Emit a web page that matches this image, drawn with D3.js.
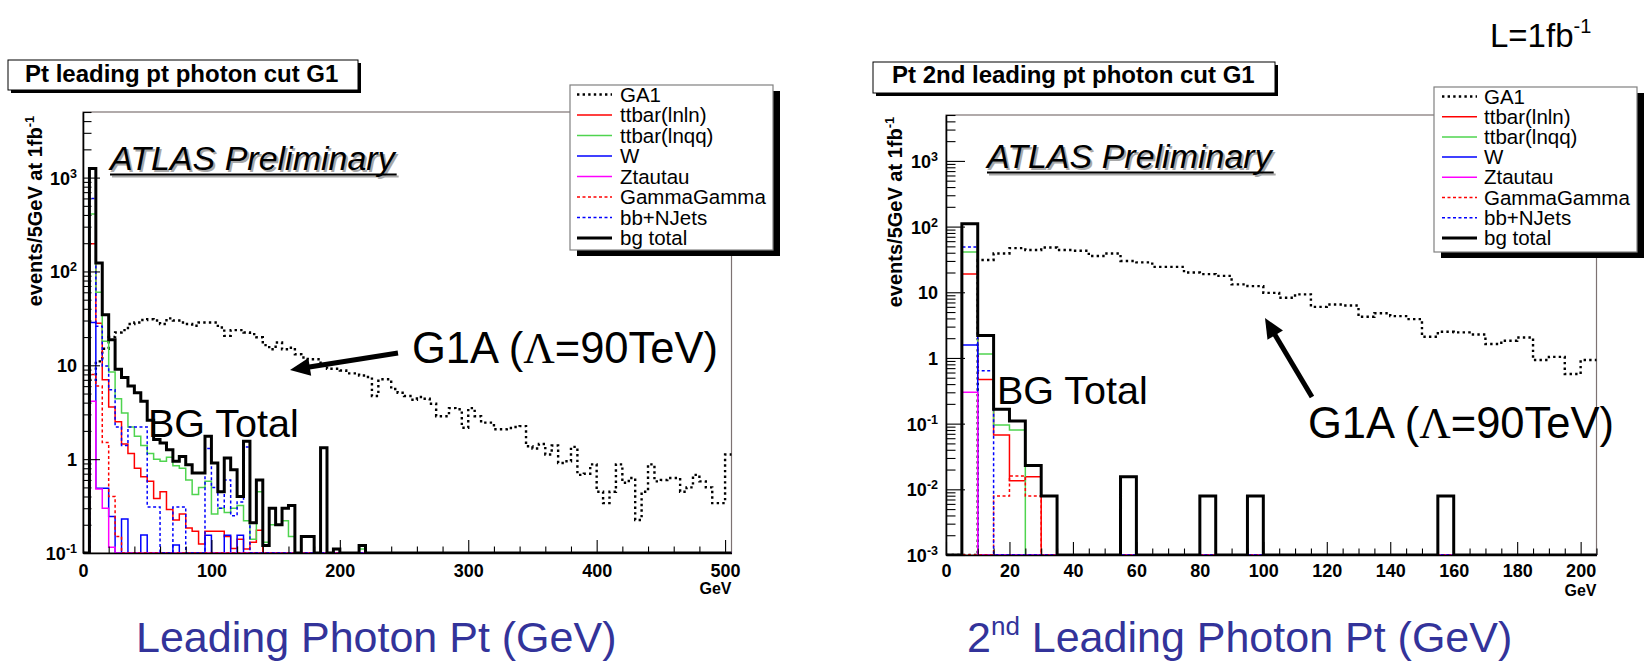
<!DOCTYPE html>
<html><head><meta charset="utf-8">
<script src="https://cdn.jsdelivr.net/npm/d3@7"></script>
<style>
body{margin:0;background:#fff}
svg{display:block}
text{font-family:"Liberation Sans",Arial,Helvetica,sans-serif}
</style></head>
<body><svg id="c" width="1645" height="661"></svg>
<script>
// ---------------- DATA ----------------
const binWidth = 5;
const seriesNames = ["GA1","ttbar(lnln)","ttbar(lnqq)","W","Ztautau","GammaGamma","bb+NJets","bg total"];

// Left panel: leading photon Pt, bins 0-505 GeV (101 bins)
const leftGA1 = [
 0,7,11,15,20,22.4,23.7,27.5,28.6,30.4,
 31,30,27.5,31.6,30,28.6,27.5,26.4,28.6,28.6,
 28.6,25.3,20.6,23.7,23.7,22.4,21.5,19.9,16.4,14.8,
 17.5,14.8,15.4,13.1,12.1,11.6,11.6,10.3,9.2,9.2,
 8.8,8.2,8.2,7.8,7.5,4.7,7.1,7.1,5.6,5.1,
 4.7,4.3,4.6,4.4,3.9,2.87,2.87,3.5,3.4,2.16,
 3.5,2.87,2.45,2.45,2.08,2.08,2.15,2.2,2.25,1.37,
 1.3,1.45,1.12,1.4,0.91,0.95,1.35,0.68,0.7,0.88,
 0.45,0.34,0.45,0.88,0.56,0.63,0.225,0.45,0.88,0.58,
 0.6,0.63,0.63,0.45,0.5,0.68,0.58,0.5,0.34,0.34,
 1.12];
const leftTtbarLnln = [
 0,197,28,7,3.6,2.5,1.45,1.15,0.8,0.65,
 0.58,0.38,0.45,0.29,0.225,0.26,0.185,0.17,0.125,0.17,
 0.17,0.17,0.15,0.112,0.14,0.11,0.13,0.175,0,0,
 0,0,0,0,0,0,0,0,0,0,
 0,0,0,0,0,0,0,0,0,0,
 0,0,0,0,0,0,0,0,0,0,
 0,0,0,0,0,0,0,0,0,0,
 0,0,0,0,0,0,0,0,0,0,
 0,0,0,0,0,0,0,0,0,0,
 0,0,0,0,0,0,0,0,0,0,
 0];
const leftTtbarLnqq = [
 0,410,60,18,8.5,4.4,3.1,2.2,1.75,1.4,
 1.15,1.0,0.95,1.05,0.85,0.8,0.6,0.42,0.5,0.58,
 0.26,0.3,0.27,0.3,0.32,0.22,0.14,0.45,0.13,0.2,
 0.2,0.22,0.15,0,0,0,0,0,0,0,
 0,0,0,0.11,0,0,0,0,0,0,
 0,0,0,0,0,0,0,0,0,0,
 0,0,0,0,0,0,0,0,0,0,
 0,0,0,0,0,0,0,0,0,0,
 0,0,0,0,0,0,0,0,0,0,
 0,0,0,0,0,0,0,0,0,0,
 0];
const leftW = [
 0,28.6,0.49,0.49,0.245,0,0.23,0,0,0.156,
 0,0,0,0,0.122,0,0,0,0,0.155,
 0,0,0.155,0,0.155,0,0,0,0,0,
 0,0,0,0,0,0,0,0,0,0,
 0,0,0,0,0,0,0,0,0,0,
 0,0,0,0,0,0,0,0,0,0,
 0,0,0,0,0,0,0,0,0,0,
 0,0,0,0,0,0,0,0,0,0,
 0,0,0,0,0,0,0,0,0,0,
 0,0,0,0,0,0,0,0,0,0,
 0];
const leftZtautau = [
 0,4.15,0.48,0.3,0.115,0,0,0,0,0,
 0,0,0,0,0,0,0,0,0,0,
 0,0,0,0,0,0,0,0,0,0,
 0,0,0,0,0,0,0,0,0,0,
 0,0,0,0,0,0,0,0,0,0,
 0,0,0,0,0,0,0,0,0,0,
 0,0,0,0,0,0,0,0,0,0,
 0,0,0,0,0,0,0,0,0,0,
 0,0,0,0,0,0,0,0,0,0,
 0,0,0,0,0,0,0,0,0,0,
 0];
const leftGammaGamma = [
 0,8,6,1.5,0.4,0.15,0,0,0,0,
 0,0,0,0,0,0,0,0,0,0,
 0,0,0,0,0,0,0,0,0,0,
 0,0,0,0,0,0,0,0,0,0,
 0,0,0,0,0,0,0,0,0,0,
 0,0,0,0,0,0,0,0,0,0,
 0,0,0,0,0,0,0,0,0,0,
 0,0,0,0,0,0,0,0,0,0,
 0,0,0,0,0,0,0,0,0,0,
 0,0,0,0,0,0,0,0,0,0,
 0];
const leftBbNJets = [
 0,600,26,9.8,5.5,2.2,1.4,2.2,2.2,2.2,
 0.31,0.31,0,0,0.31,0.31,0,0,0,1.3,
 0.5,0.3,0.6,0.25,0.35,1.35,0,0,0,0,
 0,0,0,0,0,0,0,0,0,0,
 0,0,0,0,0,0,0,0,0,0,
 0,0,0,0,0,0,0,0,0,0,
 0,0,0,0,0,0,0,0,0,0,
 0,0,0,0,0,0,0,0,0,0,
 0,0,0,0,0,0,0,0,0,0,
 0,0,0,0,0,0,0,0,0,0,
 0];
const leftBgTotal = [
 0,1250,123,34.5,18.7,9.06,7.4,6.0,5.1,4.15,
 2.6,1.62,1.49,1.26,0.95,1.07,0.87,0.71,0.71,1.75,
 0.91,0.45,1.03,0.77,0.40,1.55,0.21,0.60,0.12,0.3,
 0.2,0.3,0.32,0,0.15,0.15,0,1.32,0,0.11,
 0,0,0,0.12,0,0,0,0,0,0,
 0,0,0,0,0,0,0,0,0,0,
 0,0,0,0,0,0,0,0,0,0,
 0,0,0,0,0,0,0,0,0,0,
 0,0,0,0,0,0,0,0,0,0,
 0,0,0,0,0,0,0,0,0,0,
 0];

// Right panel: 2nd leading photon Pt, bins 0-205 GeV (41 bins)
const rightGA1 = [
 0,0,31,39,47,44,48,44,42.8,35.6,
 39,30,28.5,24.4,24.4,20,18.9,17.8,13.2,12.4,
 9.8,8.24,9.3,6.0,6.5,6.3,4.24,4.8,4.34,3.9,
 2.1,2.5,2.45,2.28,1.63,1.83,2.05,0.93,1.04,0.57,
 0.93];
const rightTtbarLnln = [
 0,18.9,0.47,0.067,0.0135,0.0155,0,0,0,0,
 0,0,0,0,0,0,0,0,0,0,
 0,0,0,0,0,0,0,0,0,0,
 0,0,0,0,0,0,0,0,0,0,
 0];
const rightTtbarLnqq = [
 0,41,1.15,0.095,0.08,0,0,0,0,0,
 0,0,0,0,0,0,0,0,0,0,
 0,0,0,0,0,0,0,0,0,0,
 0,0,0,0,0,0,0,0,0,0,
 0];
const rightW = [
 0,1.57,0,0,0,0,0,0,0,0,
 0,0,0,0,0,0,0,0,0,0,
 0,0,0,0,0,0,0,0,0,0,
 0,0,0,0,0,0,0,0,0,0,
 0];
const rightZtautau = [
 0,0.3,0,0,0,0,0,0,0,0,
 0,0,0,0,0,0,0,0,0,0,
 0,0,0,0,0,0,0,0,0,0,
 0,0,0,0,0,0,0,0,0,0,
 0];
const rightGammaGamma = [
 0,0,0,0.0079,0.016,0.0079,0,0,0,0,
 0,0,0,0,0,0,0,0,0,0,
 0,0,0,0,0,0,0,0,0,0,
 0,0,0,0,0,0,0,0,0,0,
 0];
const rightBbNJets = [
 0,49,0.64,0,0,0,0,0,0,0,
 0,0,0,0,0,0,0,0,0,0,
 0,0,0,0,0,0,0,0,0,0,
 0,0,0,0,0,0,0,0,0,0,
 0];
const rightBgTotal = [
 0,110,2.2,0.166,0.11,0.023,0.0079,0,0,0,
 0,0.0156,0,0,0,0,0.0079,0,0,0.0079,
 0,0,0,0,0,0,0,0,0,0,
 0,0.0079,0,0,0,0,0,0,0,0,
 0];

// Axis ticks
const leftXMajor = [0,100,200,300,400,500];
const rightXMajor = [0,20,40,60,80,100,120,140,160,180,200];
const leftYDecades = [0.1,1,10,100,1000];
const rightYDecades = [0.001,0.01,0.1,1,10,100,1000];

// ---------------- STYLE ----------------
const seriesStyles = [
 {color:'#000000', width:2.4, dash:'2.4,3.2'},
 {color:'#ff0000', width:1.5},
 {color:'#4fd44f', width:1.5},
 {color:'#0000ff', width:1.5},
 {color:'#ff00ff', width:1.5},
 {color:'#ff0000', width:1.5, dash:'3,2.5'},
 {color:'#0000ff', width:1.5, dash:'3,2.5'},
 {color:'#000000', width:3}
];
const drawOrder = [0,1,2,3,4,5,6,7];

const svg = d3.select('#c');
const FONT = '"Liberation Sans",Arial,Helvetica,sans-serif';

function expLabel(sel, v) {
  const e = Math.round(Math.log10(v));
  if (e === 0) { sel.text('1'); return; }
  if (e === 1) { sel.text('10'); return; }
  sel.append('tspan').text('10');
  sel.append('tspan').attr('dy', -7).attr('font-size', 12.5).text(e < 0 ? '-' + (-e) : String(e));
}

function drawPanel(cfg) {
  const g = svg.append('g');
  const x = d3.scaleLinear().domain(cfg.xDomain).range([cfg.fx0, cfg.fx1]);
  const y = d3.scaleLog().domain(cfg.yDomain).range([cfg.fy1, cfg.fy0]);
  const ymin = cfg.yDomain[0];

  g.append('rect').attr('x', cfg.fx0).attr('y', cfg.fy0)
    .attr('width', cfg.fx1 - cfg.fx0).attr('height', cfg.fy1 - cfg.fy0)
    .attr('fill', '#fff').attr('stroke', '#7d7272').attr('stroke-width', 1.2);

  const cid = 'clip' + cfg.id;
  svg.append('clipPath').attr('id', cid).append('rect')
    .attr('x', cfg.fx0).attr('y', cfg.fy0)
    .attr('width', cfg.fx1 - cfg.fx0 + 2).attr('height', cfg.fy1 - cfg.fy0 + 0.5);
  const plot = g.append('g').attr('clip-path', 'url(#' + cid + ')');

  const line = d3.line().curve(d3.curveStepAfter);
  drawOrder.forEach(si => {
    const vals = cfg.series[si];
    const pts = vals.map((v, i) => [x(i * binWidth), y(Math.max(v, ymin))]);
    pts.push([x(vals.length * binWidth), y(Math.max(vals[vals.length - 1], ymin))]);
    const st = seriesStyles[si];
    plot.append('path').attr('d', line(pts)).attr('fill', 'none')
      .attr('stroke', st.color).attr('stroke-width', st.width)
      .attr('stroke-dasharray', st.dash || null)
      .attr('stroke-linejoin', 'miter');
  });

  // X axis
  const xMinor = d3.range(cfg.xDomain[0], cfg.xDomain[1] + 0.001, cfg.xMinorStep)
    .filter(v => cfg.xMajor.indexOf(v) < 0);
  const gxm = g.append('g').attr('transform', `translate(0,${cfg.fy1})`)
    .call(d3.axisBottom(x).tickValues(xMinor).tickSize(-6.5).tickSizeOuter(0).tickFormat(''));
  gxm.select('.domain').remove();
  const gx = g.append('g').attr('transform', `translate(0,${cfg.fy1})`)
    .call(d3.axisBottom(x).tickValues(cfg.xMajor).tickSize(-13).tickSizeOuter(0).tickPadding(cfg.xPad).tickFormat(d3.format('d')));
  gx.selectAll('text').attr('font-family', FONT).attr('font-size', 18).attr('font-weight', 'bold').attr('fill', '#000');
  gx.select('.domain').attr('stroke-width', 1.6);
  g.selectAll('.tick line').attr('stroke-width', 1.1);

  // Y axis
  const yMinor = [];
  cfg.yDecades.forEach(d => { for (let k = 2; k <= 9; k++) { const v = d * k; if (v <= cfg.yDomain[1] * 1.0001) yMinor.push(v); } });
  const gym = g.append('g').attr('transform', `translate(${cfg.fx0},0)`)
    .call(d3.axisLeft(y).tickValues(yMinor).tickSize(-cfg.yMinorLen).tickSizeOuter(0).tickFormat(''));
  gym.select('.domain').remove();
  const gy = g.append('g').attr('transform', `translate(${cfg.fx0},0)`)
    .call(d3.axisLeft(y).tickValues(cfg.yDecades).tickSize(-cfg.yMajorLen).tickSizeOuter(0).tickPadding(cfg.yPad).tickFormat(''));
  gy.select('.domain').attr('stroke-width', 1.6);
  gy.selectAll('.tick text').each(function(d) {
    const t = d3.select(this);
    t.attr('font-family', FONT).attr('font-size', 18).attr('font-weight', 'bold').attr('fill', '#000').attr('dy', '0.36em');
    expLabel(t, d);
  });
  g.selectAll('.tick line').attr('stroke-width', 1.1);

  // axis unit
  g.append('text').attr('x', cfg.fx1).attr('y', cfg.fy1 + 41).attr('text-anchor', 'end')
    .attr('font-weight', 'bold').attr('font-size', 16).text('GeV');

  // y title
  const yt = g.append('text').attr('transform', `translate(${cfg.yTitleX},${cfg.yTitleY}) rotate(-90)`)
    .attr('text-anchor', 'middle').attr('font-weight', 'bold').attr('font-size', 20);
  yt.append('tspan').text('events/5GeV at 1fb');
  yt.append('tspan').attr('dy', -8).attr('font-size', 13).text('-1');

  return {x, y, g};
}

function titleBox(x, y, w, h, text, tx, ty) {
  svg.append('rect').attr('x', x + 3).attr('y', y + 3).attr('width', w).attr('height', h).attr('fill', '#000');
  svg.append('rect').attr('x', x).attr('y', y).attr('width', w).attr('height', h)
    .attr('fill', '#fff').attr('stroke', '#000').attr('stroke-width', 1);
  svg.append('text').attr('x', tx).attr('y', ty).attr('font-weight', 'bold').attr('font-size', 24).text(text);
}

function legendBox(x, y, w, h, row0, rowStep, sx0, sx1, tx) {
  svg.append('rect').attr('x', x + 7).attr('y', y + 6).attr('width', w).attr('height', h).attr('fill', '#000');
  svg.append('rect').attr('x', x).attr('y', y).attr('width', w).attr('height', h)
    .attr('fill', '#fff').attr('stroke', '#808080').attr('stroke-width', 1.2);
  seriesNames.forEach((n, i) => {
    const cy = row0 + i * rowStep;
    const st = seriesStyles[i];
    svg.append('line').attr('x1', sx0).attr('x2', sx1).attr('y1', cy).attr('y2', cy)
      .attr('stroke', st.color).attr('stroke-width', st.width)
      .attr('stroke-dasharray', st.dash || null);
    svg.append('text').attr('x', tx).attr('y', cy + 7).attr('font-size', 20.5).text(n);
  });
}

function atlasLabel(x, y) {
  const mk = (dx, dy, col) => {
    const t = svg.append('text').attr('x', x + dx).attr('y', y + dy).attr('font-style', 'italic')
      .attr('font-size', 34).attr('fill', col).text('ATLAS Preliminary');
    const len = t.node().getComputedTextLength();
    svg.append('line').attr('x1', x + dx).attr('x2', x + dx + len + 2).attr('y1', y + dy + 4.5).attr('y2', y + dy + 4.5)
      .attr('stroke', col).attr('stroke-width', 2.2);
  };
  mk(2, 2, '#a8a8a8');
  mk(0, 0, '#000');
}

function g1aLabel(x, y) {
  const t = svg.append('text').attr('x', x).attr('y', y).attr('font-size', 43.5);
  t.append('tspan').text('G1A (');
  t.append('tspan').attr('font-family', '"Liberation Serif","DejaVu Serif",serif').text('Λ');
  t.append('tspan').text('=90TeV)');
}

function arrow(x0, y0, x1, y1) {
  const dx = x1 - x0, dy = y1 - y0, L = Math.hypot(dx, dy);
  const ux = dx / L, uy = dy / L, hl = 20, hw = 9;
  const bx = x1 - ux * hl, by = y1 - uy * hl;
  svg.append('line').attr('x1', x0).attr('y1', y0).attr('x2', bx + ux * 2).attr('y2', by + uy * 2)
    .attr('stroke', '#000').attr('stroke-width', 5);
  svg.append('path').attr('d', `M${x1},${y1}L${bx - uy * hw},${by + ux * hw}L${bx + uy * hw},${by - ux * hw}Z`).attr('fill', '#000');
}

// ---------------- LEFT PANEL ----------------
titleBox(8, 60, 350, 30, 'Pt leading pt photon cut G1', 25, 82);
drawPanel({
  id: 'L', fx0: 83, fx1: 731.5, fy0: 112, fy1: 553,
  xDomain: [0, 505], yDomain: [0.1, 5000],
  series: [leftGA1, leftTtbarLnln, leftTtbarLnqq, leftW, leftZtautau, leftGammaGamma, leftBbNJets, leftBgTotal],
  xMajor: leftXMajor, xMinorStep: 20, xPad: 11,
  yDecades: leftYDecades, yMajorLen: 17, yMinorLen: 8.5, yPad: 6,
  yTitleX: 42, yTitleY: 211
});
legendBox(570, 85, 203, 165, 94.5, 20.5, 577, 612, 620);
atlasLabel(110, 170);
g1aLabel(412, 363);
svg.append('text').attr('x', 148).attr('y', 437).attr('font-size', 39.5).text('BG Total');
arrow(398, 353, 290, 370);

// ---------------- RIGHT PANEL ----------------
titleBox(873, 62, 402, 31, 'Pt 2nd leading pt photon cut G1', 892, 83);
drawPanel({
  id: 'R', fx0: 946, fx1: 1596.5, fy0: 115, fy1: 555,
  xDomain: [0, 205], yDomain: [0.001, 5000],
  series: [rightGA1, rightTtbarLnln, rightTtbarLnqq, rightW, rightZtautau, rightGammaGamma, rightBbNJets, rightBgTotal],
  xMajor: rightXMajor, xMinorStep: 5, xPad: 9,
  yDecades: rightYDecades, yMajorLen: 19, yMinorLen: 9.5, yPad: 8,
  yTitleX: 902, yTitleY: 212
});
legendBox(1434, 87, 203, 165, 96.5, 20.2, 1442, 1477, 1484);
atlasLabel(987, 168);
g1aLabel(1308, 438);
svg.append('text').attr('x', 997).attr('y', 404).attr('font-size', 39.5).text('BG Total');
arrow(1312, 397, 1265, 318);

// ---------------- ANNOTATIONS ----------------
const lum = svg.append('text').attr('x', 1490).attr('y', 47).attr('font-size', 33);
lum.append('tspan').text('L=1fb');
lum.append('tspan').attr('dy', -14).attr('font-size', 20).text('-1');

svg.append('text').attr('x', 136).attr('y', 652).attr('font-size', 43).attr('fill', '#33339a').text('Leading Photon Pt (GeV)');
const t2 = svg.append('text').attr('x', 967).attr('y', 652).attr('font-size', 43).attr('fill', '#33339a');
t2.append('tspan').text('2');
t2.append('tspan').attr('dy', -17).attr('font-size', 26).text('nd');
t2.append('tspan').attr('dy', 17).text(' Leading Photon Pt (GeV)');
</script></body></html>
